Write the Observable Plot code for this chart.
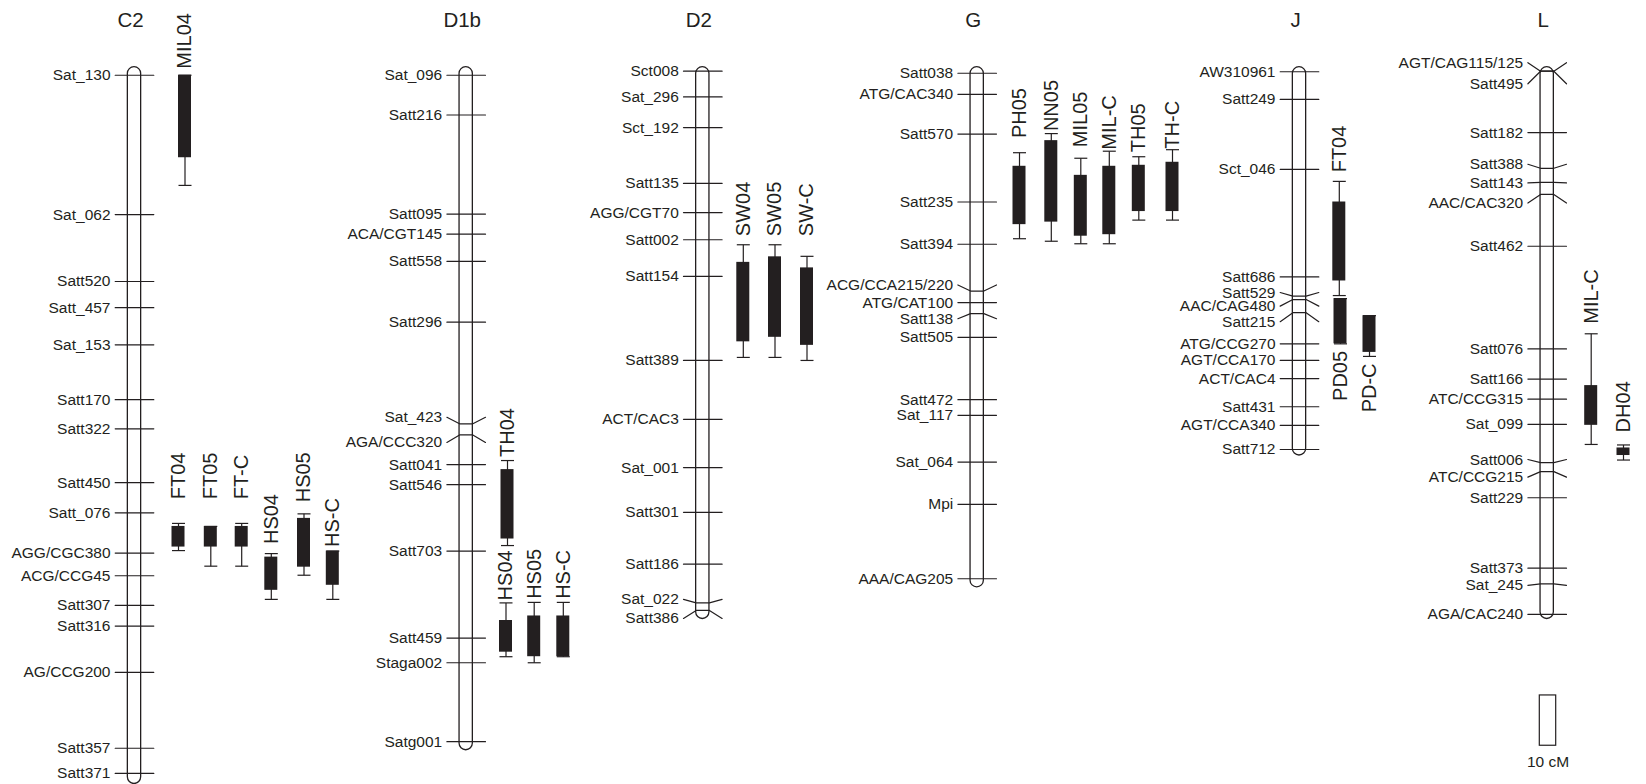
<!DOCTYPE html>
<html>
<head>
<meta charset="utf-8">
<script src="https://cdn.jsdelivr.net/npm/d3@7"></script>
<script src="https://cdn.jsdelivr.net/npm/@observablehq/plot@0.6"></script>
<style>
html, body { margin: 0; padding: 0; background: #fff; }
#chart svg { display: block; }
</style>
</head>
<body>
<div id="chart"></div>
<script>
// ---------------- DATA (map positions in cM from the top of each linkage group) ----------------
const chromosomes = ["C2", "D1b", "D2", "G", "J", "L"];
const chromLengths = [142.5, 135.8, 109.7, 103.4, 77.2, 109.7];

// [marker, position cM, label position cM (when the label is displaced)]
const markersC2 = [
  ["Sat_130", 1.6], ["Sat_062", 29.3], ["Satt520", 42.6], ["Satt_457", 47.8], ["Sat_153", 55.2],
  ["Satt170", 66.1], ["Satt322", 71.9], ["Satt450", 82.6], ["Satt_076", 88.6], ["AGG/CGC380", 96.6],
  ["ACG/CCG45", 101.1], ["Satt307", 107.0], ["Satt316", 111.1], ["AG/CCG200", 120.3],
  ["Satt357", 135.4], ["Satt371", 140.4]
];
const markersD1b = [
  ["Sat_096", 1.6], ["Satt216", 9.5], ["Satt095", 29.2], ["ACA/CGT145", 33.2], ["Satt558", 38.6],
  ["Satt296", 50.7], ["Sat_423", 70.9, 69.6], ["AGA/CCC320", 73.1, 74.6], ["Satt041", 79.0],
  ["Satt546", 83.0], ["Satt703", 96.2], ["Satt459", 113.5], ["Staga002", 118.4], ["Satg001", 134.1]
];
const markersD2 = [
  ["Sct008", 0.8], ["Sat_296", 5.9], ["Sct_192", 12.0], ["Satt135", 23.1], ["AGG/CGT70", 28.9],
  ["Satt002", 34.3], ["Satt154", 41.6], ["Satt389", 58.3], ["ACT/CAC3", 70.0], ["Sat_001", 79.6],
  ["Satt301", 88.5], ["Satt186", 98.8], ["Sat_022", 106.5, 105.8], ["Satt386", 108.0, 109.6]
];
const markersG = [
  ["Satt038", 1.2], ["ATG/CAC340", 5.4], ["Satt570", 13.3], ["Satt235", 26.8], ["Satt394", 35.2],
  ["ACG/CCA215/220", 44.5, 43.3], ["ATG/CAT100", 46.8], ["Satt138", 49.0, 50.0], ["Satt505", 53.7],
  ["Satt472", 66.1], ["Sat_117", 69.2], ["Sat_064", 78.5], ["Mpi", 86.9], ["AAA/CAG205", 101.7]
];
const markersJ = [
  ["AW310961", 0.9], ["Satt249", 6.4], ["Sct_046", 20.3], ["Satt686", 41.7], ["Satt529", 45.5, 44.8],
  ["AAC/CAG480", 46.2, 47.5], ["Satt215", 48.8, 50.6], ["ATG/CCG270", 55.0], ["AGT/CCA170", 58.3],
  ["ACT/CAC4", 61.9], ["Satt431", 67.5], ["AGT/CCA340", 71.2], ["Satt712", 76.0]
];
const markersL = [
  ["AGT/CAG115/125", 0.8, -0.9], ["Satt495", 0.8, 3.3], ["Satt182", 13.0], ["Satt388", 20.1, 19.3],
  ["Satt143", 22.9, 23.0], ["AAC/CAC320", 25.3, 27.0], ["Satt462", 35.6], ["Satt076", 56.0],
  ["Satt166", 62.0], ["ATC/CCG315", 66.0], ["Sat_099", 71.0], ["Satt006", 78.6, 78.0],
  ["ATC/CCG215", 80.4, 81.5], ["Satt229", 85.6], ["Satt373", 99.6], ["Sat_245", 102.7, 103.0],
  ["AGA/CAC240", 108.8]
];
const markerSets = [markersC2, markersD1b, markersD2, markersG, markersJ, markersL];

// QTL intervals (cM): whisker top, box top, box bottom, whisker bottom, label anchor, label side
const qtlNames   = ["MIL04","FT04","FT05","FT-C","HS04","HS05","HS-C",
                    "TH04","HS04","HS05","HS-C",
                    "SW04","SW05","SW-C",
                    "PH05","NN05","MIL05","MIL-C","TH05","TH-C",
                    "FT04","PD05","PD-C",
                    "MIL-C","DH04"];
const qtlChrom   = ["C2","C2","C2","C2","C2","C2","C2",
                    "D1b","D1b","D1b","D1b",
                    "D2","D2","D2",
                    "G","G","G","G","G","G",
                    "J","J","J",
                    "L","L"];
const qtlWhiskerTop    = [1.6, 90.7, 91.3, 90.7, 96.7, 88.8, 96.2,  78.2, 106.5, 106.4, 106.4,  35.3, 35.3, 37.6,  17.0, 13.2, 18.1, 16.7, 17.8, 16.4,  22.7, 46.0, 49.4,  53.0, 75.1];
const qtlBoxTop        = [1.6, 91.3, 91.3, 91.3, 97.4, 89.7, 96.2,  80.0, 110.0, 109.1, 109.1,  38.8, 37.7, 39.9,  19.7, 14.6, 21.5, 19.7, 19.5, 18.9,  26.8, 46.0, 49.4,  63.3, 75.7];
const qtlBoxBottom     = [18.0, 95.4, 95.4, 95.4, 104.0, 99.4, 103.0, 93.8, 116.3, 117.2, 117.2, 54.6, 53.7, 55.3,  31.3, 30.8, 33.6, 33.3, 28.7, 28.7,  42.5, 55.0, 56.7,  71.2, 77.2];
const qtlWhiskerBottom = [23.5, 96.1, 99.2, 99.2, 105.8, 101.0, 105.8, 95.1, 117.2, 118.4, 117.2, 57.7, 57.7, 58.3, 34.1, 34.6, 35.1, 35.1, 30.4, 30.4,  45.4, 55.0, 57.5,  75.0, 78.1];
const qtlLabelAt       = [0.3, 85.9, 85.9, 85.9, 94.8, 86.5, 95.4,  77.5, 106.0, 105.7, 105.7,  33.6, 33.6, 33.6,  14.1, 12.7, 15.9, 16.4, 16.9, 16.2,  20.9, 56.4, 58.9,  51.0, 72.6];
const qtlLabelSide     = ["above","above","above","above","above","above","above",
                          "above","above","above","above",
                          "above","above","above",
                          "above","above","above","above","above","above",
                          "above","below","below",
                          "above","above"];

const scaleBarLength = 10; // cM
const scaleBarLabel = "10 cM";

// ---------------- LAYOUT (horizontal placement, pixels) ----------------
const chromX = [134, 465.7, 702.3, 976.7, 1299, 1546.7];
const qtlX = [184.5, 178, 210.3, 241.2, 270.8, 303.5, 332.3,
              507, 505.5, 533.7, 562.8,
              742.8, 774.5, 806.5,
              1019, 1050.8, 1080.3, 1108.8, 1138.3, 1172,
              1338.8, 1340, 1369,
              1590.7, 1623];
const scaleBarX = 1547.5;
const scaleBarStart = 124.9;     // cM
const chromLabelAt = -8;         // cM (above the top)
const halfChrom = 6.65, halfTick = 19.3, halfBox = 6.5;
const topPx = 66.7, pxPerCM = 5.03;

// ---------------- derived tables ----------------
const chromTable = chromosomes.map((c, i) => ({name: c, len: chromLengths[i], cx: chromX[i]}));
const markerTable = markerSets.flatMap((set, i) => set.map(([name, pos, lab]) => ({
  chrom: chromosomes[i], cx: chromX[i], name, pos, label: lab ?? pos
})));
const tickPoints = markerTable.flatMap((m, k) => [
  {id: k, x: m.cx - halfTick, y: m.label},
  {id: k, x: m.cx - halfChrom, y: m.pos},
  {id: k, x: m.cx + halfChrom, y: m.pos},
  {id: k, x: m.cx + halfTick, y: m.label}
]);
const qtlTable = qtlNames.map((n, i) => ({
  name: n, chrom: qtlChrom[i], x: qtlX[i],
  wt: qtlWhiskerTop[i], bt: qtlBoxTop[i], bb: qtlBoxBottom[i], wb: qtlWhiskerBottom[i],
  lab: qtlLabelAt[i], side: qtlLabelSide[i]
}));

const ink = "#231f20";
const font = "'Liberation Sans', Arial, Helvetica, sans-serif";

const chart = Plot.plot({
  width: 1646,
  height: 784,
  marginTop: 0,
  marginBottom: 0,
  marginLeft: 0,
  marginRight: 0,
  style: {fontFamily: font, background: "#fff", color: ink},
  x: {domain: [0, 1646], range: [0, 1646], axis: null},
  y: {domain: [0, (784 - topPx) / pxPerCM], range: [topPx, 784], axis: null},
  marks: [
    // chromosomes
    Plot.rect(chromTable, {
      x1: d => d.cx - halfChrom, x2: d => d.cx + halfChrom,
      y1: d => 0, y2: "len",
      rx: halfChrom, fill: "#fff", stroke: ink, strokeWidth: 1.3
    }),
    // marker ticks
    Plot.line(tickPoints, {x: "x", y: "y", z: "id", stroke: ink, strokeWidth: 1.2}),
    // marker labels
    Plot.text(markerTable, {
      x: d => d.cx - halfTick - 4.7, y: "label", text: "name",
      textAnchor: "end", fontSize: 15.5, fill: ink
    }),
    // chromosome labels
    Plot.text(chromTable, {
      x: d => d.cx - 4, y: d => chromLabelAt, text: "name",
      lineAnchor: "bottom", fontSize: 20.5, fill: ink
    }),
    // QTL whiskers
    Plot.link(qtlTable, {x1: "x", x2: "x", y1: "wt", y2: "wb", stroke: ink, strokeWidth: 1.2}),
    Plot.link(qtlTable, {x1: d => d.x - halfBox, x2: d => d.x + halfBox, y1: "wt", y2: "wt", stroke: ink, strokeWidth: 1.2}),
    Plot.link(qtlTable, {x1: d => d.x - halfBox, x2: d => d.x + halfBox, y1: "wb", y2: "wb", stroke: ink, strokeWidth: 1.2}),
    // QTL boxes
    Plot.rect(qtlTable, {x1: d => d.x - halfBox, x2: d => d.x + halfBox, y1: "bt", y2: "bb", fill: ink}),
    // QTL labels
    Plot.text(qtlTable.filter(d => d.side === "above"), {
      x: "x", y: "lab", text: "name", rotate: -90, textAnchor: "start", fontSize: 20, fill: ink
    }),
    Plot.text(qtlTable.filter(d => d.side === "below"), {
      x: "x", y: "lab", text: "name", rotate: -90, textAnchor: "end", fontSize: 20, fill: ink
    }),
    // scale bar
    Plot.rect([{start: scaleBarStart, len: scaleBarLength}], {
      x1: d => scaleBarX - 8.2, x2: d => scaleBarX + 8.2,
      y1: "start", y2: d => d.start + d.len,
      fill: "none", stroke: ink, strokeWidth: 1.2
    }),
    Plot.text([{start: scaleBarStart, len: scaleBarLength}], {
      x: d => scaleBarX, y: d => d.start + d.len + 4.3, text: d => scaleBarLabel,
      lineAnchor: "bottom", fontSize: 15.5, fill: ink
    })
  ]
});

document.getElementById("chart").appendChild(chart);
</script>
</body>
</html>
